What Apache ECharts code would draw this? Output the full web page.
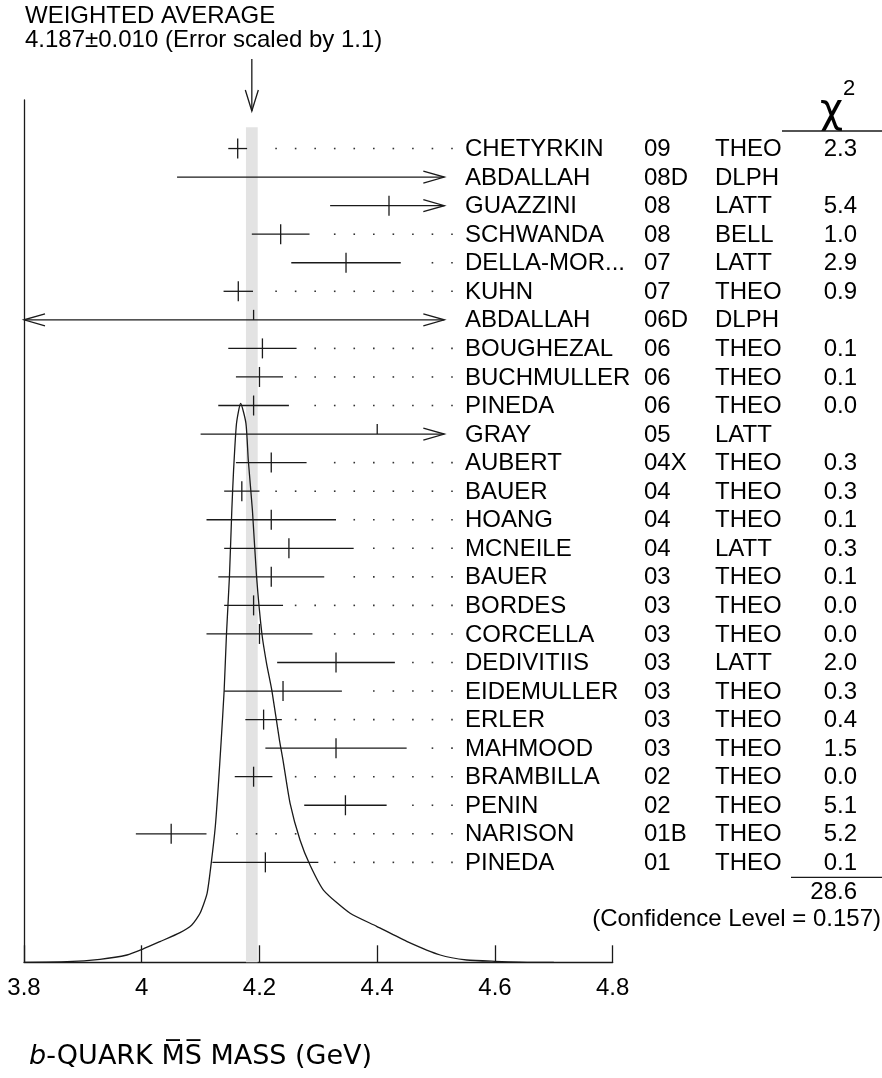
<!DOCTYPE html>
<html>
<head>
<meta charset="utf-8">
<title>b-quark MS mass ideogram</title>
<script src="https://cdn.jsdelivr.net/npm/echarts@6/dist/echarts.min.js"></script>
<style>
  html, body { margin: 0; padding: 0; background: #fff; }
  #chart { width: 882px; height: 1078px; }
</style>
</head>
<body>
<div id="chart"></div>
<script>
// measurements, top row first
const names = ["CHETYRKIN", "ABDALLAH", "GUAZZINI", "SCHWANDA", "DELLA-MOR...", "KUHN", "ABDALLAH",
  "BOUGHEZAL", "BUCHMULLER", "PINEDA", "GRAY", "AUBERT", "BAUER", "HOANG", "MCNEILE", "BAUER",
  "BORDES", "CORCELLA", "DEDIVITIIS", "EIDEMULLER", "ERLER", "MAHMOOD", "BRAMBILLA", "PENIN",
  "NARISON", "PINEDA"];
const years = ["09", "08D", "08", "08", "07", "07", "06D", "06", "06", "06", "05", "04X", "04", "04",
  "04", "03", "03", "03", "03", "03", "03", "03", "02", "02", "01B", "01"];
const methods = ["THEO", "DLPH", "LATT", "BELL", "LATT", "THEO", "DLPH", "THEO", "THEO", "THEO", "LATT",
  "THEO", "THEO", "THEO", "LATT", "THEO", "THEO", "THEO", "LATT", "THEO", "THEO", "THEO", "THEO",
  "THEO", "THEO", "THEO"];
const chi2 = ["2.3", "", "5.4", "1.0", "2.9", "0.9", "", "0.1", "0.1", "0.0", "", "0.3", "0.3", "0.1",
  "0.3", "0.1", "0.0", "0.0", "2.0", "0.3", "0.4", "1.5", "0.0", "5.1", "5.2", "0.1"];
const masses = [4.163, 4.60, 4.42, 4.236, 4.347, 4.164, 4.19, 4.205, 4.20, 4.19, 4.40, 4.22, 4.17, 4.22,
  4.25, 4.22, 4.19, 4.20, 4.33, 4.24, 4.207, 4.33, 4.190, 4.346, 4.05, 4.21];
const errors = [0.016, 0.54, 0.10, 0.049, 0.093, 0.025, 0.40, 0.058, 0.04, 0.06, 0.30, 0.06, 0.03, 0.11,
  0.11, 0.09, 0.05, 0.09, 0.10, 0.10, 0.031, 0.12, 0.032, 0.070, 0.06, 0.09];

const avgMass = 4.187;
const avgError = 0.010;
const errScale = "1.1";
const chi2Sum = "28.6";
const confLevel = "0.157";

// ideogram curve (mass, height)
const curveMass = [3.800, 3.873, 3.929, 3.975, 4.001, 4.031, 4.065, 4.085, 4.099, 4.111, 4.118, 4.125,
  4.130, 4.135, 4.140, 4.144, 4.149, 4.153, 4.156, 4.161, 4.168, 4.177, 4.181, 4.188, 4.195, 4.204,
  4.212, 4.221, 4.234, 4.240, 4.252, 4.269, 4.286, 4.309, 4.354, 4.399, 4.450, 4.507, 4.552, 4.600,
  4.665, 4.700];
const curveHeight = [0, 0.6, 3, 7.3, 13, 20.7, 29.7, 37.3, 49, 69, 99, 136, 176, 222, 272, 329, 386,
  452, 492, 539, 559, 539, 502, 452, 386, 329, 299, 272, 222, 202, 159, 122, 97, 72, 49, 36, 21, 7.3,
  2.3, 1, 0, 0];

const xTicks = [3.8, 4.0, 4.2, 4.4, 4.6, 4.8];

const FONT = "'Liberation Sans', Arial, Helvetica, sans-serif";
const INK = "#1a1a1a";
const clipMin = 3.8, clipMax = 4.514;
const dotEnd = 4.527, dotStep = 0.0332, dotGap = 0.0212;
const halfTickRows = [6, 10];
const colName = 465, colYear = 644, colMethod = 715, colChi = 857;

const chart = echarts.init(document.getElementById("chart"));

function arrowHead(x, y, dir) {
  return {
    type: "polyline",
    shape: { points: [[x - dir * 21, y - 6], [x, y], [x - dir * 21, y + 6]] },
    style: { stroke: INK, lineWidth: 1.3, fill: null }
  };
}

function renderRow(params, api) {
  const i = params.dataIndex;
  const m = masses[i], e = errors[i];
  const lo = m - e, hi = m + e;
  const y = api.coord([clipMin, i])[1];
  const xLo = api.coord([Math.max(lo, clipMin), i])[0];
  const xHi = api.coord([Math.min(hi, clipMax), i])[0];
  const kids = [];
  kids.push({ type: "line", shape: { x1: xLo, y1: y, x2: xHi, y2: y },
    style: { stroke: INK, lineWidth: 1.3 } });
  if (hi > clipMax) kids.push(arrowHead(xHi, y, 1));
  if (lo < clipMin) kids.push(arrowHead(xLo, y, -1));
  if (m <= clipMax) {
    const xc = api.coord([m, i])[0];
    const half = halfTickRows.indexOf(i) >= 0;
    kids.push({ type: "line", shape: { x1: xc, y1: y - 10, x2: xc, y2: half ? y : y + 10 },
      style: { stroke: INK, lineWidth: 1.3 } });
  }
  if (hi <= clipMax) {
    for (let v = dotEnd; v > hi + dotGap; v -= dotStep) {
      const xd = api.coord([v, i])[0];
      kids.push({ type: "rect", shape: { x: xd - 0.8, y: y - 0.8, width: 1.6, height: 1.6 },
        style: { fill: "#333" } });
    }
  }
  const txt = (x, s, align) => ({
    type: "text", x: x, y: y + 1,
    style: { text: s, font: "24px " + FONT, fill: "#000", align: align || "left", verticalAlign: "middle" }
  });
  kids.push(txt(colName, names[i]));
  kids.push(txt(colYear, years[i]));
  kids.push(txt(colMethod, methods[i]));
  if (chi2[i]) kids.push(txt(colChi, chi2[i], "right"));
  if (i === names.length - 1) {
    kids.push({ type: "line", shape: { x1: 791, y1: y + 15, x2: 882, y2: y + 15 },
      style: { stroke: INK, lineWidth: 1.3 } });
    kids.push({ type: "text", x: colChi, y: y + 30,
      style: { text: chi2Sum, font: "24px " + FONT, fill: "#000", align: "right", verticalAlign: "middle" } });
    kids.push({ type: "text", x: 881, y: y + 57,
      style: { text: "(Confidence Level = " + confLevel + ")", font: "24px " + FONT, fill: "#000",
        align: "right", verticalAlign: "middle" } });
  }
  return { type: "group", children: kids };
}

function renderBand(params, api) {
  const p1 = api.coord([avgMass - avgError, 835]);
  const p2 = api.coord([avgMass + avgError, 0]);
  return { type: "rect", shape: { x: p1[0], y: p1[1], width: p2[0] - p1[0], height: p2[1] - p1[1] },
    style: { fill: "#e3e3e3" } };
}

function renderAvgArrow(params, api) {
  const p = api.coord([avgMass, -1.7]);
  const x = p[0], top = p[1] - 41, tip = p[1] + 11;
  return { type: "group", children: [
    { type: "line", shape: { x1: x, y1: top, x2: x, y2: tip }, style: { stroke: INK, lineWidth: 1.3 } },
    { type: "polyline", shape: { points: [[x - 6.5, tip - 21], [x, tip], [x + 6.5, tip - 21]] },
      style: { stroke: INK, lineWidth: 1.3, fill: null } },
    { type: "text", x: 25, y: top - 43,
      style: { text: "WEIGHTED AVERAGE", font: "24px " + FONT, fill: "#000", verticalAlign: "middle" } },
    { type: "text", x: 25, y: top - 19,
      style: { text: avgMass.toFixed(3) + "\u00b1" + avgError.toFixed(3) + " (Error scaled by " + errScale + ")",
        font: "24px " + FONT, fill: "#000", verticalAlign: "middle" } }
  ] };
}

const option = {
  animation: false,
  backgroundColor: "#fff",
  grid: { left: 24, right: 269.3, top: 100, bottom: 115.7 },
  xAxis: {
    type: "value", min: 3.8, max: 4.8, interval: 0.2, position: "bottom",
    axisLine: { show: true, onZero: false, lineStyle: { color: INK, width: 1.3 } },
    axisTick: { show: true, inside: true, length: 17, lineStyle: { color: INK, width: 1.3 } },
    axisLabel: { color: "#000", fontSize: 24, fontFamily: FONT, margin: 14,
      formatter: v => xTicks.indexOf(+v.toFixed(1)) >= 0 ? String(+v.toFixed(1)) : "" },
    splitLine: { show: false }
  },
  yAxis: [
    { type: "value", inverse: true, min: -1.7, max: 28.5,
      axisLine: { show: true, onZero: false, lineStyle: { color: INK, width: 1.3 } },
      axisTick: { show: false }, axisLabel: { show: false }, splitLine: { show: false } },
    { type: "value", min: 0, max: 862.3, show: false, splitLine: { show: false } }
  ],
  graphic: [
    { type: "text", x: 820, y: 112,
      style: { text: "\u03c7", font: "40px 'DejaVu Sans', sans-serif", fill: "#000", verticalAlign: "middle" } },
    { type: "text", x: 843, y: 78,
      style: { text: "2", font: "22px " + FONT, fill: "#000", verticalAlign: "top" } },
    { type: "line", shape: { x1: 782, y1: 131, x2: 882, y2: 131 }, style: { stroke: INK, lineWidth: 1.3 } },
    { type: "text", x: 29, y: 1057,
      style: { rich: { it: { fontStyle: "italic", fontSize: 27, fontFamily: "'DejaVu Sans', sans-serif" },
                       n: { fontSize: 27, fontFamily: "'DejaVu Sans', sans-serif" } },
               text: "{it|b}{n|-QUARK M\u0305S\u0305 MASS (GeV)}", fill: "#000", verticalAlign: "middle" } }
  ],
  series: [
    { type: "custom", yAxisIndex: 1, z: 1, silent: true, data: [[avgMass, 0]], renderItem: renderBand },
    { type: "line", yAxisIndex: 1, z: 3, silent: true, showSymbol: false, smooth: 0.2,
      data: curveMass.map((m, k) => [m, curveHeight[k]]),
      lineStyle: { color: INK, width: 1.3 } },
    { type: "custom", yAxisIndex: 0, z: 4, silent: true, clip: false,
      data: masses.map((m, k) => [Math.min(m, 4.8), k]), encode: { x: 0, y: 1 }, renderItem: renderRow },
    { type: "custom", yAxisIndex: 0, z: 4, silent: true, clip: false,
      data: [[avgMass, -1.7]], encode: { x: 0, y: 1 }, renderItem: renderAvgArrow }
  ]
};
chart.setOption(option);
</script>
</body>
</html>
